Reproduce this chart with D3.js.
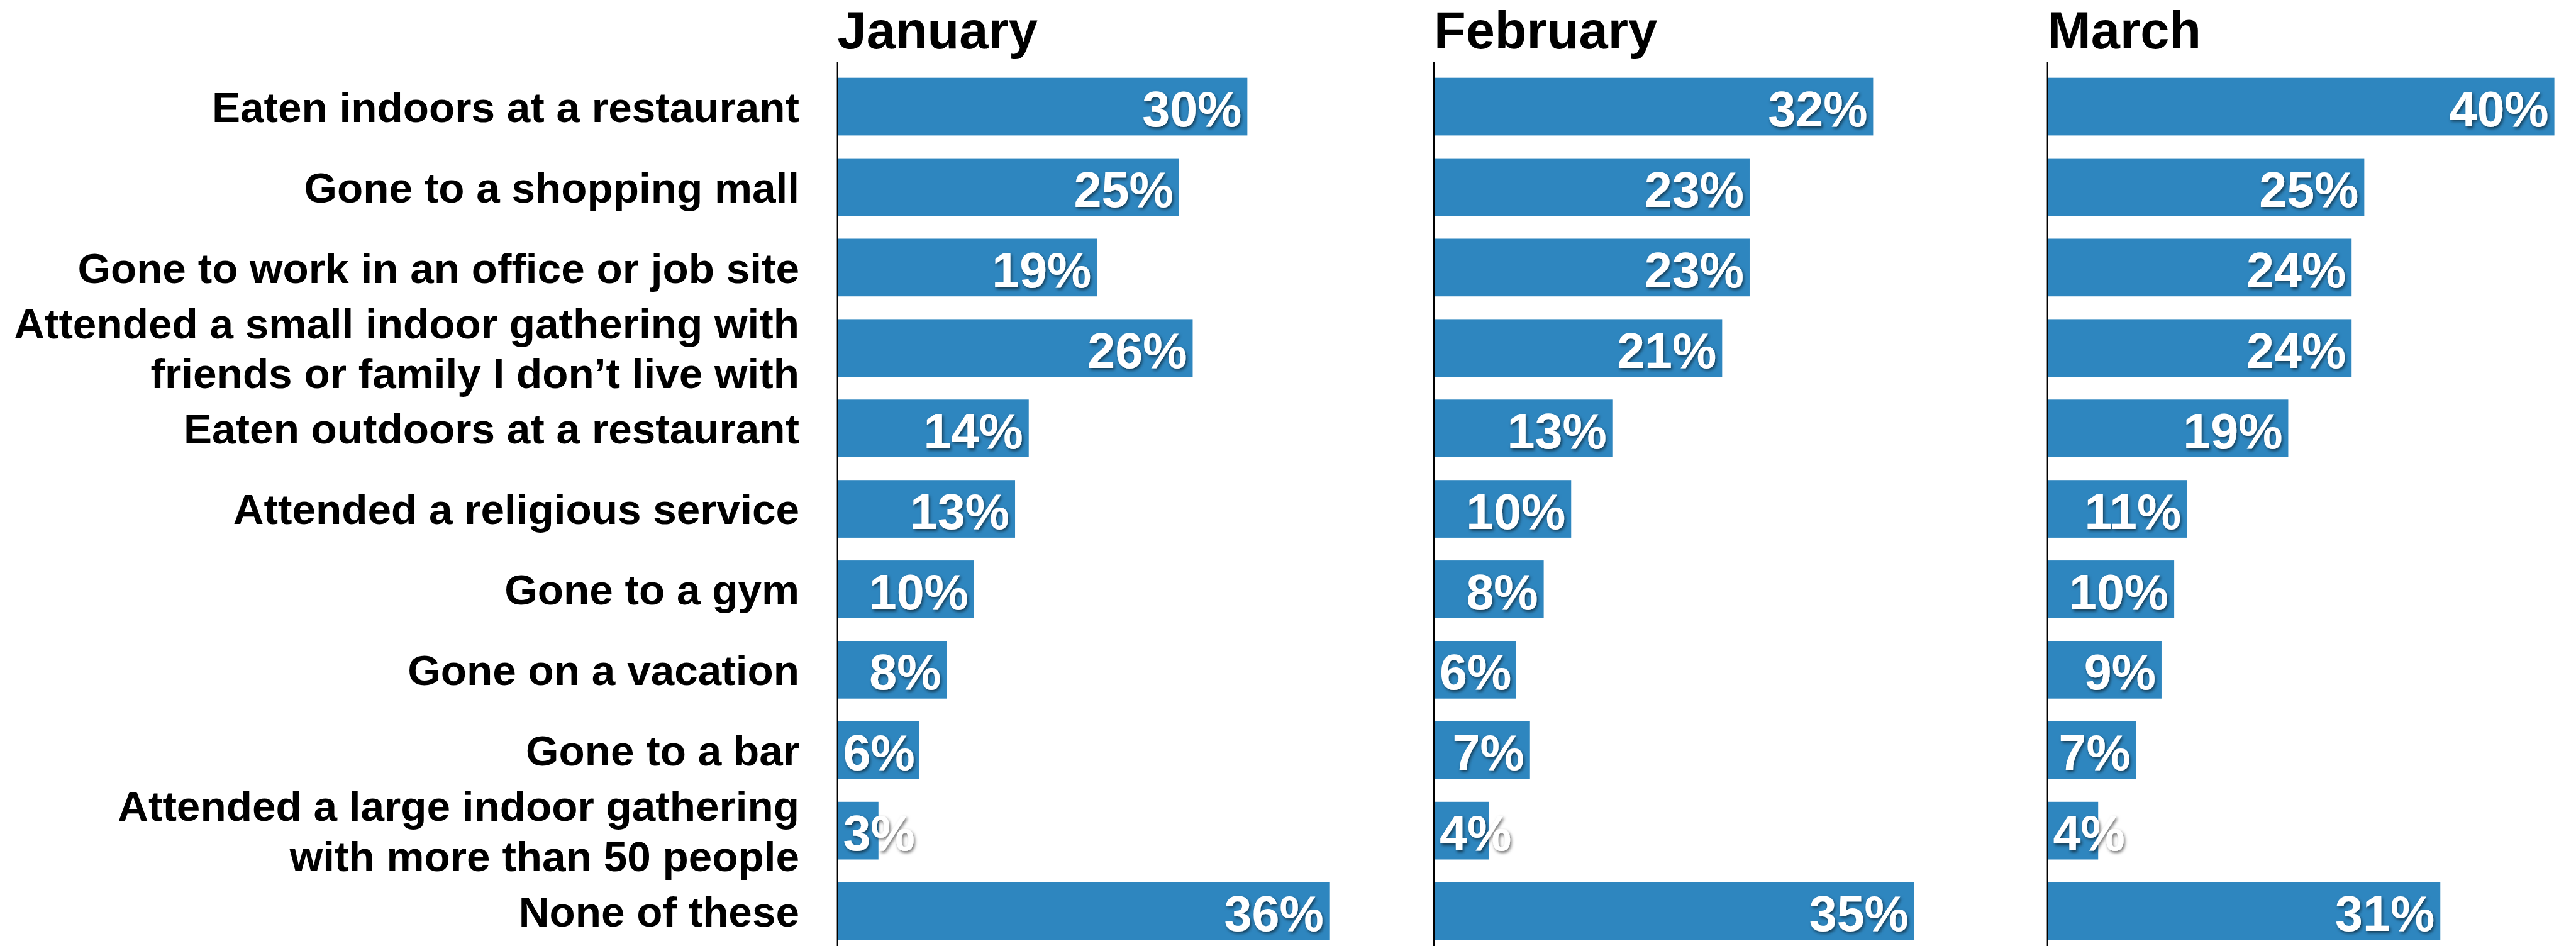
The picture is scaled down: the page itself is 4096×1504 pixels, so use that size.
<!DOCTYPE html>
<html>
<head>
<meta charset="utf-8">
<script src="https://cdn.jsdelivr.net/npm/d3@7"></script>
<style>
  html, body { margin: 0; padding: 0; background: #fff; }
  #master { width: 4096px; height: 1504px; }
  text { font-family: "Liberation Sans", Arial, sans-serif; font-weight: 700; }
</style>
</head>
<body>
<div id="master"></div>
<script>
// data
const categories = [
  "Eaten indoors at a restaurant",
  "Gone to a shopping mall",
  "Gone to work in an office or job site",
  "Attended a small indoor gathering with\nfriends or family I don\u2019t live with",
  "Eaten outdoors at a restaurant",
  "Attended a religious service",
  "Gone to a gym",
  "Gone on a vacation",
  "Gone to a bar",
  "Attended a large indoor gathering\nwith more than 50 people",
  "None of these"
]
const months = ["January", "February", "March"]
const january = [30, 25, 19, 26, 14, 13, 10, 8, 6, 3, 36]
const february = [32, 23, 23, 21, 13, 10, 8, 6, 7, 4, 35]
const march = [40, 25, 24, 24, 19, 11, 10, 9, 7, 4, 31]
const series = [january, february, march]

// layout
let w = 4096
let h = 1504
let panelX = [1331.6, 2280, 3255.6]
let panelW = [869, 873, 806]   // pixels for 40%
let barColor = "#2e86bf"
let labelRight = 1271
let labelSize = 67.5
let lineGap = 79.5
let valueSize = 79
let pad = 9

let svg = d3.select("#master")
  .append("svg")
  .attr("width", w)
  .attr("height", h)

let defs = svg.append("defs")
defs.append("filter")
  .attr("id", "shadow")
  .attr("x", "-20%").attr("y", "-20%")
  .attr("width", "140%").attr("height", "150%")
  .append("feDropShadow")
  .attr("dx", 2).attr("dy", 3)
  .attr("stdDeviation", 2.5)
  .attr("flood-color", "#000")
  .attr("flood-opacity", 0.55)

let yScale = d3.scaleBand()
  .domain(categories)
  .range([123.7, 1494.4])
  .paddingInner(0.283)
  .paddingOuter(0)

// category labels
let labels = svg.append("g").attr("class", "labels")
categories.forEach(c => {
  let lines = c.split("\n")
  let cy = yScale(c) + yScale.bandwidth() / 2
  lines.forEach((line, i) => {
    labels.append("text")
      .attr("x", labelRight)
      .attr("y", cy + (i - (lines.length - 1) / 2) * lineGap)
      .attr("dy", "0.36em")
      .attr("text-anchor", "end")
      .attr("font-size", labelSize)
      .attr("fill", "#000")
      .text(line)
  })
})

// panels
months.forEach((m, k) => {
  let values = series[k]
  let xScale = d3.scaleLinear().domain([0, 40]).range([0, panelW[k]])
  let g = svg.append("g").attr("transform", "translate(" + panelX[k] + ",0)")

  g.append("text")
    .attr("x", 0)
    .attr("y", 77)
    .attr("font-size", 83)
    .attr("fill", "#000")
    .text(m)

  g.selectAll("rect")
    .data(values)
    .enter()
    .append("rect")
    .attr("x", 0)
    .attr("y", (d, i) => yScale(categories[i]))
    .attr("width", d => xScale(d))
    .attr("height", yScale.bandwidth())
    .attr("fill", barColor)

  g.append("line")
    .attr("x1", 0).attr("x2", 0)
    .attr("y1", 99).attr("y2", h)
    .attr("stroke", "#000")
    .attr("stroke-width", 2)

  g.selectAll(".value")
    .data(values)
    .enter()
    .append("text")
    .attr("class", "value")
    .attr("y", (d, i) => yScale(categories[i]) + yScale.bandwidth() / 2)
    .attr("dy", "0.4em")
    .attr("font-size", valueSize)
    .attr("fill", "#fff")
    .attr("filter", "url(#shadow)")
    .text(d => d + "%")
    .each(function(d) {
      let tw = this.getComputedTextLength()
      let bw = xScale(d)
      if (tw + 2 * pad > bw) {
        d3.select(this).attr("x", pad).attr("text-anchor", "start")
      } else {
        d3.select(this).attr("x", bw - pad).attr("text-anchor", "end")
      }
    })
})
</script>
</body>
</html>
